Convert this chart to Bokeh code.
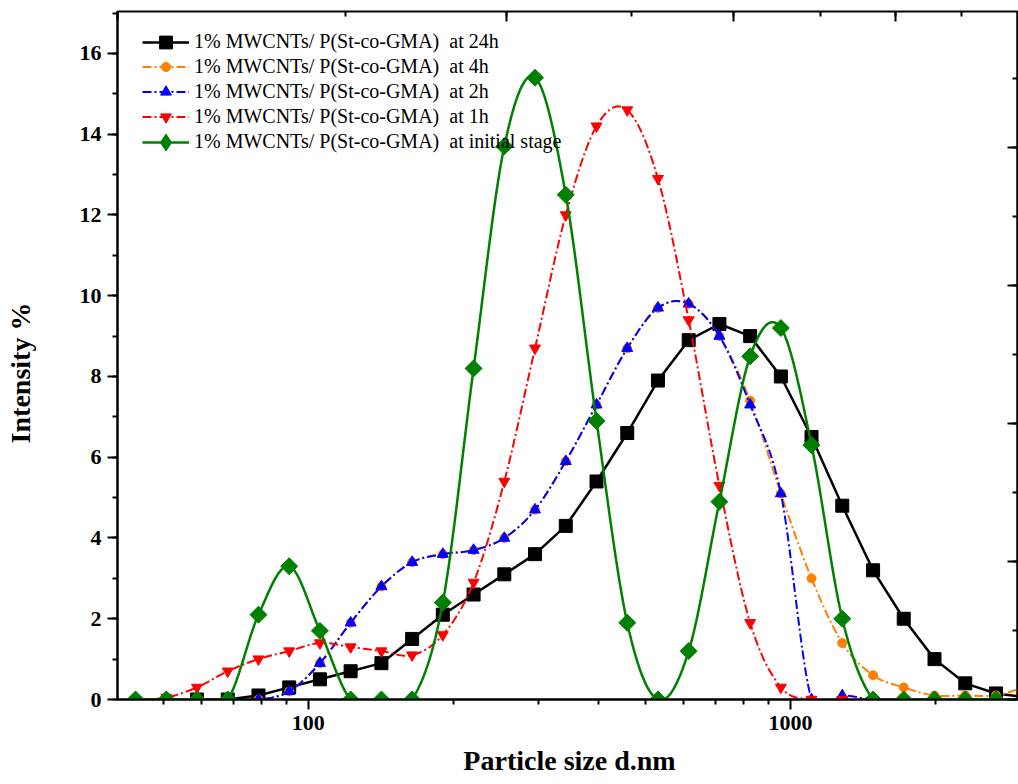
import numpy as np
from bokeh.plotting import figure
from bokeh.models import (Range1d, LinearAxis, FixedTicker, SingleIntervalTicker,
                          Legend, LegendItem, CustomJSTickFormatter, Label)
from bokeh.embed import file_html
from bokeh.resources import INLINE

# ---------------- data ----------------
size_nm = [43.82, 50.75, 58.77, 68.06, 78.82, 91.28, 105.7, 122.4, 141.8, 164.2,
           190.1, 220.2, 255.0, 295.3, 342.0, 396.1, 458.7, 531.2, 615.1, 712.4,
           825.0, 955.4, 1106, 1281, 1484, 1718, 1990, 2305, 2669, 3091]

# 24h : bins from 58.77 to 3091
h24_x = size_nm[2:]
h24_y = [0, 0, 0.1, 0.3, 0.5, 0.7, 0.9, 1.5, 2.1, 2.6, 3.1, 3.6, 4.3, 5.4, 6.6, 7.9,
         8.9, 9.3, 9.0, 8.0, 6.5, 4.8, 3.2, 2.0, 1.0, 0.4, 0.15, 0.05]

# 4h : bins from 58.77 to 3091
h4_x = size_nm[2:]
h4_y = [0, 0, 0, 0.2, 0.9, 1.9, 2.8, 3.4, 3.6, 3.7, 4.0, 4.7, 5.9, 7.3, 8.7, 9.7,
        9.8, 9.0, 7.4, 5.1, 3.0, 1.4, 0.6, 0.3, 0.1, 0.1, 0.1, 0.3]

# 2h : bins from 58.77 to 1718
h2_x = size_nm[2:26]
h2_y = [0, 0, 0, 0.2, 0.9, 1.9, 2.8, 3.4, 3.6, 3.7, 4.0, 4.7, 5.9, 7.3, 8.7, 9.7,
        9.8, 9.0, 7.3, 5.1, 0, 0.1, 0, 0]

# 1h : bins from 43.82 to 1718
h1_x = size_nm[0:26]
h1_y = [0, 0.05, 0.3, 0.7, 1.0, 1.2, 1.4, 1.3, 1.2, 1.1, 1.6, 2.9, 5.4, 8.7, 12.0,
        14.2, 14.6, 12.9, 9.4, 5.3, 1.9, 0.3, 0, 0, 0, 0]

# initial stage : bins from 43.82 to 3091
h0_x = size_nm
h0_y = [0, 0, 0, 0, 2.1, 3.3, 1.7, 0, 0, 0, 2.4, 8.2, 13.7, 15.4, 12.5, 6.9, 1.9,
        0, 1.2, 4.9, 8.5, 9.2, 6.3, 2.0, 0, 0, 0, 0, 0, 0]

labels = ["1% MWCNTs/ P(St-co-GMA)  at 24h",
          "1% MWCNTs/ P(St-co-GMA)  at 4h",
          "1% MWCNTs/ P(St-co-GMA)  at 2h",
          "1% MWCNTs/ P(St-co-GMA)  at 1h",
          "1% MWCNTs/ P(St-co-GMA)  at initial stage"]

x_ticks = [100, 1000]


def smooth(xs, ys, n=16):
    """Catmull-Rom curve through the data points, in log10(x) space."""
    lx = np.log10(np.asarray(xs, dtype=float))
    y = np.asarray(ys, dtype=float)
    py = np.concatenate([[y[0]], y, [y[-1]]])
    t = np.linspace(0, 1, n, endpoint=False)
    h00 = 2 * t**3 - 3 * t**2 + 1
    h10 = t**3 - 2 * t**2 + t
    h01 = -2 * t**3 + 3 * t**2
    h11 = t**3 - t**2
    ox, oy = [], []
    for j in range(len(y) - 1):
        p0, p1, p2, p3 = py[j], py[j + 1], py[j + 2], py[j + 3]
        m1 = (p2 - p0) / 2.0
        m2 = (p3 - p1) / 2.0
        ox.append(lx[j] + t * (lx[j + 1] - lx[j]))
        oy.append(h00 * p1 + h10 * m1 + h01 * p2 + h11 * m2)
    ox.append([lx[-1]])
    oy.append([y[-1]])
    return 10 ** np.concatenate(ox), np.concatenate(oy)


FONT = "Liberation Serif"

p = figure(width=1018, height=784, x_axis_type="log",
           x_range=Range1d(40.2, 2958), y_range=Range1d(0, 17.04),
           output_backend="svg", toolbar_location=None,
           min_border_left=117, min_border_right=1, min_border_top=11,
           min_border_bottom=85)
p.outline_line_color = "black"
p.outline_line_width = 2
p.xgrid.visible = False
p.ygrid.visible = False
p.background_fill_color = "white"
p.border_fill_color = "white"

# bottom axis
xa = p.xaxis[0]
xa.ticker = FixedTicker(ticks=x_ticks,
                        minor_ticks=[m * d for d in (10, 100, 1000) for m in range(2, 10)])
xa.major_label_overrides = {100: "100", 1000: "1000"}
# left axis (trailing no-break spaces shift the centred title downwards a little)
ya = p.yaxis[0]
ya.ticker = SingleIntervalTicker(interval=2, num_minor_ticks=2)
ya.axis_label = "Intensity %" + "\u00a0" * 5
ya.axis_label_standoff = 41
for ax in (xa, ya):
    ax.major_tick_out = 10
    ax.major_tick_in = 0
    ax.minor_tick_out = 5
    ax.minor_tick_in = 0
    ax.axis_line_width = 2
    ax.major_tick_line_width = 2
    ax.minor_tick_line_width = 2
    ax.axis_line_color = "black"
    ax.major_tick_line_color = "black"
    ax.minor_tick_line_color = "black"
    ax.major_label_text_font = FONT
    ax.major_label_text_font_style = "bold"
    ax.major_label_text_font_size = "22px"
    ax.major_label_text_color = "black"
    ax.major_label_standoff = 6
    ax.axis_label_text_font = FONT
    ax.axis_label_text_font_style = "bold"
    ax.axis_label_text_font_size = "28px"
    ax.axis_label_text_color = "black"

# x-axis title placed in the panel below the axis
p.add_layout(Label(x=452, y=3, x_units="screen", y_units="screen",
                   text="Particle size d.nm", text_font=FONT, text_font_style="bold",
                   text_font_size="28px", text_align="center",
                   text_baseline="alphabetic", text_color="black"), "below")

# top and right axes (inward ticks, no labels)
p.extra_x_ranges = {"top": Range1d(0, 4.972)}
p.extra_y_ranges = {"right": Range1d(0, 4.986)}
ta = LinearAxis(x_range_name="top", ticker=SingleIntervalTicker(interval=1, num_minor_ticks=2))
ra = LinearAxis(y_range_name="right", ticker=SingleIntervalTicker(interval=1, num_minor_ticks=2))
for ax in (ta, ra):
    ax.major_tick_in = 10
    ax.major_tick_out = 0
    ax.minor_tick_in = 5
    ax.minor_tick_out = 0
    ax.axis_line_width = 2
    ax.major_tick_line_width = 2
    ax.minor_tick_line_width = 2
    ax.formatter = CustomJSTickFormatter(code="return ''")
    ax.major_label_text_font_size = "1px"
    ax.major_label_standoff = 0
    ax.axis_label = None
p.add_layout(ta, "above")
p.add_layout(ra, "right")

DASH = "9 3 2 3"
entries = []   # (label, renderers, legend swatch height)

# 24h: straight segments, squares
r1 = p.line(h24_x, h24_y, line_color="black", line_width=2.5)
m1 = p.scatter(h24_x, h24_y, marker="square", size=13, color="black")
entries.append((labels[0], [r1, m1], 32))

# 4h
sx, sy = smooth(h4_x, h4_y)
r2 = p.line(sx, sy, line_color="#FF8000", line_width=2, line_dash=DASH)
m2 = p.scatter(h4_x, h4_y, marker="circle", size=9, color="#FF8000")
entries.append((labels[1], [r2, m2], 23))

# 2h
sx, sy = smooth(h2_x, h2_y)
r3 = p.line(sx, sy, line_color="#0000FF", line_width=2, line_dash=DASH)
m3 = p.scatter(h2_x, h2_y, marker="triangle", size=11, color="#0000FF")
entries.append((labels[2], [r3, m3], 27))

# 1h
sx, sy = smooth(h1_x, h1_y)
r4 = p.line(sx, sy, line_color="#FF0000", line_width=2, line_dash=DASH)
m4 = p.scatter(h1_x, h1_y, marker="inverted_triangle", size=11, color="#FF0000")
entries.append((labels[3], [r4, m4], 27))

# initial stage
sx, sy = smooth(h0_x, h0_y)
r5 = p.line(sx, sy, line_color="#008000", line_width=2.5)
m5 = p.scatter(h0_x, h0_y, marker="square", angle=np.pi / 4, size=12, color="#008000")
# legend-only diamond swatch (legend swatches ignore marker rotation)
m5_leg = p.scatter([np.nan], [np.nan], marker="diamond", size=17, color="#008000")
entries.append((labels[4], [r5, m5_leg], 42))

# one single-row legend per entry, rows 25 px apart, so each swatch keeps its size
FRAME_H = 688
for i, (lab, rends, gh) in enumerate(entries):
    centre = 30.7 + 25 * i
    lg = Legend(items=[LegendItem(label=lab, renderers=rends)],
                location=(25, FRAME_H - centre - gh / 2), orientation="vertical",
                background_fill_alpha=0, border_line_color=None,
                label_text_font=FONT, label_text_font_size="20px",
                label_text_color="black",
                glyph_width=47, glyph_height=gh, label_height=gh,
                spacing=0, padding=0, margin=0, label_standoff=5)
    p.add_layout(lg, "center")

open("out.html", "w").write(file_html(p, INLINE))
